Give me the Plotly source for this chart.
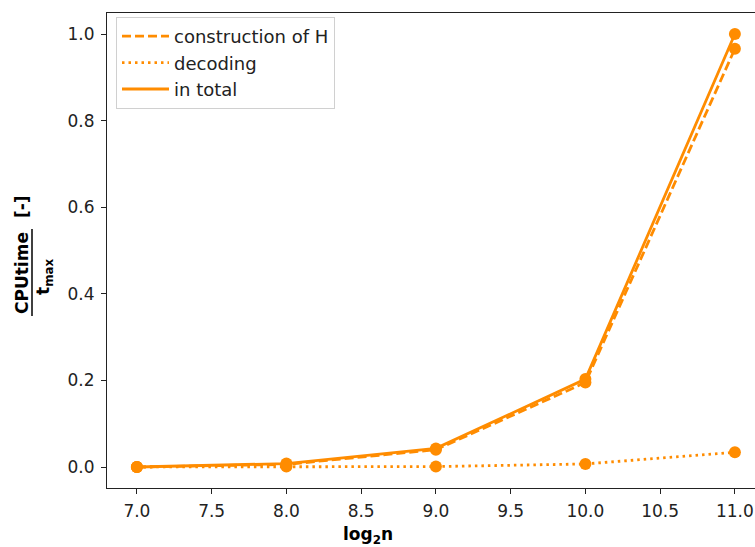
import plotly.graph_objects as go

x_vals = [7, 8, 9, 10, 11]
construction = [0.0, 0.006, 0.040, 0.195, 0.966]
decoding = [0.0, 0.001, 0.001, 0.007, 0.034]
total = [0.0, 0.008, 0.043, 0.203, 1.0]

names = ["construction of H", "decoding", "in total"]
dashes = ["9px,4px", "2.5px,4px", "solid"]
series = [construction, decoding, total]
color = "#FF8C00"

W, H = 755, 547
L, R, T, B = 107, 0, 13, 59
pw, ph = W - L - R, H - T - B


def px(x):
    return (x - L) / pw


def py(y):
    return (H - B - y) / ph


fig = go.Figure()
for name, dash, ys in zip(names, dashes, series):
    fig.add_trace(go.Scatter(x=x_vals, y=ys, mode="lines", name=name,
                             line=dict(color=color, width=2.8, dash=dash)))
    fig.add_trace(go.Scatter(x=x_vals, y=ys, mode="markers", showlegend=False,
                             marker=dict(color=color, size=12), hoverinfo="skip"))

font_family = "DejaVu Sans"
fig.update_layout(
    width=W, height=H,
    margin=dict(l=L, r=R, t=T, b=B, pad=0),
    plot_bgcolor="white", paper_bgcolor="white",
    font=dict(family=font_family, size=14, color="black"),
    showlegend=True,
    legend=dict(x=px(116), y=py(17), xanchor="left", yanchor="top",
                bgcolor="rgba(255,255,255,0.8)", bordercolor="#d0d0d0", borderwidth=1,
                font=dict(size=18, color="#222"), tracegroupgap=0, itemwidth=47),
    xaxis=dict(range=[6.8, 6.8 + pw / 149.5], tickvals=[7, 7.5, 8, 8.5, 9, 9.5, 10, 10.5, 11],
               ticktext=["7.0", "7.5", "8.0", "8.5", "9.0", "9.5", "10.0", "10.5", "11.0"],
               showgrid=False, zeroline=False, showline=True, linecolor="#222", linewidth=1.2,
               mirror=True, ticks="outside", ticklen=5, tickcolor="#222",
               ticklabelstandoff=2, tickfont=dict(size=17, color="#222")),
    yaxis=dict(range=[-0.0485, 1.0485], tickvals=[0, 0.2, 0.4, 0.6, 0.8, 1.0],
               ticktext=["0.0", "0.2", "0.4", "0.6", "0.8", "1.0"],
               showgrid=False, zeroline=False, showline=True, linecolor="#222", linewidth=1.2,
               mirror=False, ticks="outside", ticklen=5, tickcolor="#222",
               ticklabelstandoff=3, tickfont=dict(size=17, color="#222")),
)

anns = [
    dict(text="<b>log<sub>2</sub>n</b>", x=px(368), y=py(535), font=dict(size=17), textangle=0),
    dict(text="<b>[-]</b>", x=px(22), y=py(207), font=dict(size=17), textangle=-90),
    dict(text="<b>CPUtime</b>", x=px(22), y=py(273), font=dict(size=17), textangle=-90),
    dict(text="<b>t<sub>max</sub></b>", x=px(44), y=py(277), font=dict(size=17), textangle=-90),
]
for a in anns:
    fig.add_annotation(xref="paper", yref="paper", xanchor="center", yanchor="middle",
                       showarrow=False, **a)

fig.add_shape(type="line", xref="paper", yref="paper", x0=px(32), x1=px(32), y0=py(229), y1=py(316),
              line=dict(color="black", width=1.5))

fig.write_html("out.html")
